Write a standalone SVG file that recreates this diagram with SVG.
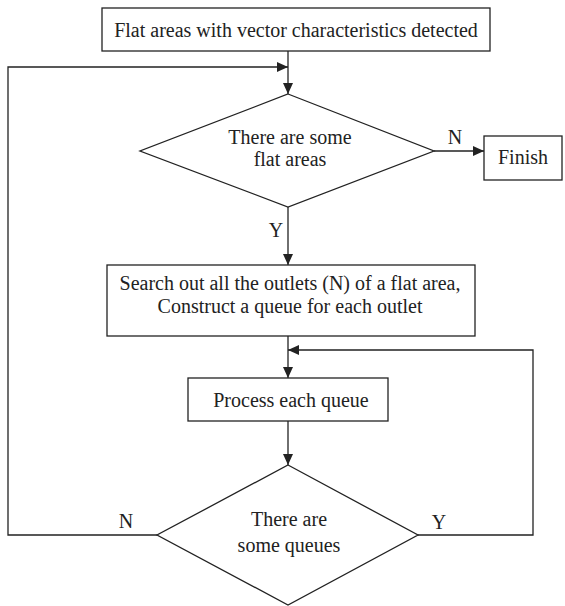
<svg xmlns="http://www.w3.org/2000/svg" width="565" height="606" viewBox="0 0 565 606">
<style>
.box{fill:#fff;stroke:#222;stroke-width:1.3}
.ln{fill:none;stroke:#222;stroke-width:1.3}
text{font-family:"Liberation Serif","Times New Roman",serif;font-size:20px;fill:#222}
.c{text-anchor:middle}
</style>
<defs>
<marker id="ah" markerUnits="userSpaceOnUse" markerWidth="12" markerHeight="10" refX="11" refY="5" orient="auto">
<path d="M0,0 L11,5 L0,10 Z" fill="#222"/>
</marker>
</defs>
<rect width="565" height="606" fill="#fff"/>
<g id="connectors">
<path class="ln" d="M288,51 V94" marker-end="url(#ah)"/>
<path class="ln" d="M157,535 H8 V67 H288" marker-end="url(#ah)"/>
<path class="ln" d="M434,151 H484" marker-end="url(#ah)"/>
<path class="ln" d="M288,207 V265" marker-end="url(#ah)"/>
<path class="ln" d="M288,336 V378" marker-end="url(#ah)"/>
<path class="ln" d="M418,535 H533 V350 H288" marker-end="url(#ah)"/>
<path class="ln" d="M288,421 V465" marker-end="url(#ah)"/>
<text x="455" y="144" class="c">N</text>
<text x="276" y="237" class="c">Y</text>
<text x="126" y="528" class="c">N</text>
<text x="439" y="529" class="c">Y</text>
</g>
<g id="start">
<rect class="box" x="102" y="8" width="388" height="43"/>
<text x="296" y="37" class="c">Flat areas with vector characteristics detected</text>
</g>
<g id="decision1">
<polygon class="box" points="288,94 434,151 288,207 140,151"/>
<text x="290" y="144" class="c">There are some</text>
<text x="290" y="166" class="c">flat areas</text>
</g>
<g id="finish">
<rect class="box" x="484" y="136" width="78" height="44"/>
<text x="523" y="164" class="c">Finish</text>
</g>
<g id="search">
<rect class="box" x="107" y="265" width="368" height="71"/>
<text x="290" y="290" class="c">Search out all the outlets (N) of a flat area,</text>
<text x="290" y="313" class="c">Construct a queue for each outlet</text>
</g>
<g id="process">
<rect class="box" x="188" y="378" width="200" height="43"/>
<text x="291" y="407" class="c">Process each queue</text>
</g>
<g id="decision2">
<polygon class="box" points="288,465 418,535 288,605 157,535"/>
<text x="289" y="526" class="c">There are</text>
<text x="289" y="552" class="c">some queues</text>
</g>
</svg>
